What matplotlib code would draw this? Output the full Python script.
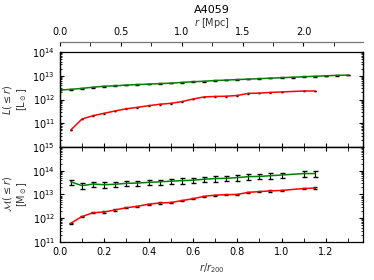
import numpy as np
import matplotlib
matplotlib.use('Agg')
import matplotlib.pyplot as plt
from matplotlib.ticker import MultipleLocator, LogLocator, NullFormatter

# profiles of A4059, in units of r/r200
r200_mpc = 1.82

x_lum_tot = [0.0, 0.05, 0.1, 0.15, 0.2, 0.25, 0.3, 0.35, 0.4, 0.45, 0.5, 0.55, 0.6, 0.65,
             0.7, 0.75, 0.8, 0.85, 0.9, 0.95, 1.0, 1.05, 1.1, 1.15, 1.2, 1.25, 1.3]
log_lum_tot = [12.40, 12.43, 12.47, 12.52, 12.56, 12.58, 12.61, 12.63, 12.65, 12.67, 12.69,
               12.72, 12.75, 12.77, 12.80, 12.82, 12.84, 12.86, 12.88, 12.90, 12.92, 12.94,
               12.96, 12.98, 13.00, 13.02, 13.03]

x_red = [0.05, 0.1, 0.15, 0.2, 0.25, 0.3, 0.35, 0.4, 0.45, 0.5, 0.55, 0.6, 0.65, 0.7,
         0.75, 0.8, 0.85, 0.9, 0.95, 1.0, 1.1, 1.15]
log_lum_red = [10.72, 11.18, 11.32, 11.42, 11.52, 11.61, 11.67, 11.74, 11.80, 11.84, 11.91,
               12.02, 12.11, 12.13, 12.14, 12.17, 12.26, 12.27, 12.30, 12.32, 12.36, 12.36]

log_mass_tot = [13.53, 13.37, 13.44, 13.41, 13.43, 13.47, 13.48, 13.51, 13.53, 13.56, 13.58,
                13.60, 13.64, 13.67, 13.68, 13.71, 13.75, 13.76, 13.79, 13.82, 13.88, 13.88]
log_mass_red = [11.79, 12.07, 12.23, 12.26, 12.35, 12.44, 12.50, 12.59, 12.64, 12.66, 12.74,
                12.82, 12.92, 12.97, 12.99, 13.00, 13.09, 13.12, 13.15, 13.17, 13.25, 13.27]

plt.rcParams['font.size'] = 7
plt.rcParams['xtick.direction'] = 'in'
plt.rcParams['ytick.direction'] = 'in'
plt.rcParams['xtick.top'] = True
plt.rcParams['ytick.right'] = True
plt.rcParams['xtick.major.size'] = 3
plt.rcParams['ytick.major.size'] = 3
plt.rcParams['xtick.minor.size'] = 3
plt.rcParams['ytick.minor.size'] = 1.5
plt.rcParams['axes.linewidth'] = 0.9

fig = plt.figure(figsize=(3.74, 2.80), dpi=100)
ax1 = fig.add_axes([0.160, 0.475, 0.811, 0.339])
ax2 = fig.add_axes([0.160, 0.136, 0.811, 0.339], sharex=ax1)

lt = 10 ** np.array(log_lum_tot)
lr = 10 ** np.array(log_lum_red)
mt = 10 ** np.array(log_mass_tot)
mr = 10 ** np.array(log_mass_red)

ax1.errorbar(x_lum_tot, lt, yerr=0.03 * lt, color='g', ecolor='k', elinewidth=0.6,
             capsize=1.5, lw=1.1)
ax1.errorbar(x_red, lr, yerr=0.03 * lr, color='r', ecolor='k', elinewidth=0.4,
             capsize=0.8, lw=1.1)
ax2.errorbar(x_red, mt, yerr=0.25 * mt, color='g', ecolor='k', elinewidth=0.8,
             capsize=1.8, lw=1.1)
ax2.errorbar(x_red, mr, yerr=0.06 * mr, color='r', ecolor='k', elinewidth=0.5,
             capsize=1.2, lw=1.1)

for ax in (ax1, ax2):
    ax.set_yscale('log')
    ax.yaxis.set_minor_locator(LogLocator(base=10, subs=np.arange(2, 10), numticks=20))
    ax.yaxis.set_minor_formatter(NullFormatter())
    ax.xaxis.set_major_locator(MultipleLocator(0.2))
    ax.xaxis.set_minor_locator(MultipleLocator(0.1))

ax1.set_xlim(0, 1.368)
ax1.set_ylim(1e10, 1e14)
ax1.set_yticks([1e11, 1e12, 1e13, 1e14])
ax1.tick_params(labelbottom=False)
ax2.set_ylim(1e11, 1e15)
ax2.set_yticks([1e11, 1e12, 1e13, 1e14, 1e15])

ax1.set_ylabel('$L(\\leq r)$\n[L$_\\odot$]', color='#333333', labelpad=2)
ax2.set_ylabel('$\\mathcal{M}(\\leq r)$\n[M$_\\odot$]', color='#333333', labelpad=2)
ax2.set_xlabel('$r/r_{200}$', color='#333333', labelpad=3)

axt = ax1.twiny()
axt.set_xlim(0, 1.368 * r200_mpc)
axt.spines['top'].set_position(('outward', 7))
axt.spines['top'].set_color('#777777')
axt.xaxis.set_major_locator(MultipleLocator(0.5))
axt.xaxis.set_minor_locator(MultipleLocator(0.25))
axt.tick_params(axis='x', which='both', bottom=False, direction='in')
axt.set_xlabel('$r$ [Mpc]', color='#333333', labelpad=1)
axt.set_title('A4059', fontsize=8, pad=2)

fig.savefig('out.png', dpi=100)
